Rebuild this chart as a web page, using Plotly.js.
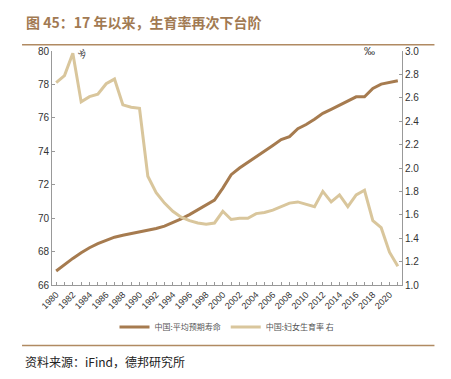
<!DOCTYPE html>
<html>
<head>
<meta charset="utf-8">
<script src="https://cdn.plot.ly/plotly-3.0.1.min.js"></script>
<style>html,body{margin:0;padding:0;background:#fff;}#chart{width:451px;height:379px;}</style>
</head>
<body>
<div id="chart"></div>
<script>
const years = [1980,1981,1982,1983,1984,1985,1986,1987,1988,1989,1990,1991,1992,1993,1994,1995,1996,1997,1998,1999,2000,2001,2002,2003,2004,2005,2006,2007,2008,2009,2010,2011,2012,2013,2014,2015,2016,2017,2018,2019,2020,2021];
const lifeExpectancy = [66.84,67.24,67.59,67.93,68.23,68.47,68.68,68.86,68.98,69.08,69.16,69.26,69.38,69.52,69.72,69.96,70.21,70.51,70.79,71.08,71.8,72.6,73.0,73.33,73.65,74.0,74.35,74.7,74.88,75.35,75.6,75.92,76.27,76.51,76.77,77.02,77.26,77.26,77.76,78.02,78.12,78.22];
const fertility = [2.73,2.79,2.98,2.565,2.61,2.63,2.72,2.76,2.54,2.52,2.51,1.93,1.79,1.70,1.63,1.58,1.55,1.53,1.52,1.53,1.63,1.56,1.57,1.57,1.61,1.62,1.64,1.67,1.70,1.71,1.69,1.67,1.80,1.71,1.77,1.67,1.77,1.81,1.55,1.49,1.28,1.16];
const tickLabels = years.map(y => (y % 2 === 0 ? String(y) : ''));
const seriesNames = ['中国:平均预期寿命', '中国:妇女生育率 右'];

const L = 52, R = 402.5, T = 50.7, B = 285;
const px = x => (x - L) / (R - L);
const py = y => (B - y) / (B - T);

const cjk = '"Noto Sans CJK SC", "Liberation Sans", sans-serif';
const lat = '"Liberation Sans", Arial, sans-serif';

const traces = [
  {x: years, y: lifeExpectancy, name: seriesNames[0], type: 'scatter', mode: 'lines',
   line: {color: '#A67B4F', width: 3}, yaxis: 'y'},
  {x: years, y: fertility, name: seriesNames[1], type: 'scatter', mode: 'lines',
   line: {color: '#D9C69C', width: 3}, yaxis: 'y2'}
];

const layout = {
  width: 451, height: 379,
  margin: {l: L, r: 451 - R, t: T, b: 379 - B, autoexpand: false},
  paper_bgcolor: '#fff', plot_bgcolor: '#fff',
  showlegend: true,
  legend: {orientation: 'h', x: 0.5, xanchor: 'center', y: py(327), yanchor: 'middle',
           font: {family: cjk, size: 8, color: '#555'}, itemwidth: 30, tracegroupgap: 0},
  xaxis: {range: [1979.5, 2021.5], tickmode: 'array', tickvals: years, ticktext: tickLabels,
          tickangle: -45, showline: true, linecolor: '#999', linewidth: 1,
          ticks: 'inside', ticklen: 3, tickcolor: '#999', showgrid: false, zeroline: false,
          tickfont: {family: lat, size: 9, color: '#333'}},
  yaxis: {range: [66, 80], dtick: 2, showline: true, linecolor: '#999', linewidth: 1,
          ticks: 'inside', ticklen: 3, tickcolor: '#999', showgrid: false, zeroline: false,
          tickfont: {family: lat, size: 10, color: '#333'}},
  yaxis2: {range: [1, 3], dtick: 0.2, tickformat: '.1f', overlaying: 'y', side: 'right',
           showline: true, linecolor: '#999', linewidth: 1,
           ticks: 'inside', ticklen: 3, tickcolor: '#999', showgrid: false, zeroline: false,
           tickfont: {family: lat, size: 10, color: '#333'}},
  shapes: [
    {type: 'line', xref: 'paper', yref: 'paper', x0: px(22), x1: px(435), y0: py(44.5), y1: py(44.5),
     line: {color: '#B08A62', width: 1.5}},
    {type: 'line', xref: 'paper', yref: 'paper', x0: px(22), x1: px(435), y0: py(345.5), y1: py(345.5),
     line: {color: '#B08A62', width: 1.5}}
  ],
  annotations: [
    {text: '<b>图 45：17 年以来，生育率再次下台阶</b>', xref: 'paper', yref: 'paper',
     x: px(24), y: py(22), xanchor: 'left', yanchor: 'middle', showarrow: false,
     font: {family: cjk, size: 14, color: '#A27A52'}},
    {text: '资料来源：iFind，德邦研究所', xref: 'paper', yref: 'paper',
     x: px(23), y: py(362), xanchor: 'left', yanchor: 'middle', showarrow: false,
     font: {family: cjk, size: 12, color: '#222'}},
    {text: '岁', xref: 'paper', yref: 'paper', x: px(83), y: py(53), xanchor: 'center', yanchor: 'middle',
     showarrow: false, textangle: -40, font: {family: cjk, size: 9, color: '#444'}},
    {text: '‰', xref: 'paper', yref: 'paper', x: px(370), y: py(51), xanchor: 'center', yanchor: 'middle',
     showarrow: false, font: {family: lat, size: 11, color: '#333'}}
  ]
};

Plotly.newPlot('chart', traces, layout, {displayModeBar: false, staticPlot: true});
</script>
</body>
</html>
